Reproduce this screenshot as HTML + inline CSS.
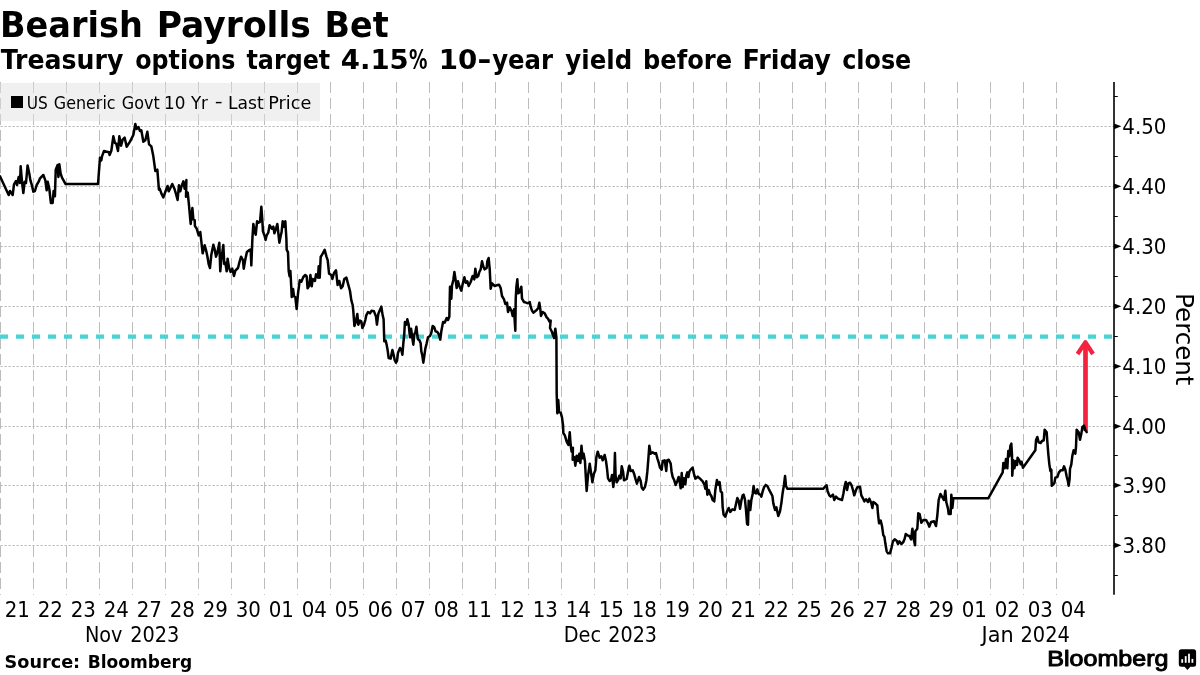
<!DOCTYPE html>
<html lang="en"><head><meta charset="utf-8"><title>Bearish Payrolls Bet</title>
<style>html,body{margin:0;padding:0;background:#fff;width:1200px;height:675px;overflow:hidden}</style></head>
<body>
<svg width="1200" height="675" viewBox="0 0 1200 675" style="display:block">
<rect width="1200" height="675" fill="#fff"/>
<g stroke="#bcbcbc" stroke-width="1" stroke-dasharray="11 5" fill="none">
<line x1="0.5" y1="82" x2="0.5" y2="594.8"/>
<line x1="33.5" y1="82" x2="33.5" y2="594.8"/>
<line x1="66.5" y1="82" x2="66.5" y2="594.8"/>
<line x1="99.5" y1="82" x2="99.5" y2="594.8"/>
<line x1="132.5" y1="82" x2="132.5" y2="594.8"/>
<line x1="165.5" y1="82" x2="165.5" y2="594.8"/>
<line x1="198.5" y1="82" x2="198.5" y2="594.8"/>
<line x1="231.5" y1="82" x2="231.5" y2="594.8"/>
<line x1="264.5" y1="82" x2="264.5" y2="594.8"/>
<line x1="297.5" y1="82" x2="297.5" y2="594.8"/>
<line x1="330.5" y1="82" x2="330.5" y2="594.8"/>
<line x1="363.5" y1="82" x2="363.5" y2="594.8"/>
<line x1="396.5" y1="82" x2="396.5" y2="594.8"/>
<line x1="429.5" y1="82" x2="429.5" y2="594.8"/>
<line x1="462.5" y1="82" x2="462.5" y2="594.8"/>
<line x1="495.5" y1="82" x2="495.5" y2="594.8"/>
<line x1="528.5" y1="82" x2="528.5" y2="594.8"/>
<line x1="561.5" y1="82" x2="561.5" y2="594.8"/>
<line x1="594.5" y1="82" x2="594.5" y2="594.8"/>
<line x1="627.5" y1="82" x2="627.5" y2="594.8"/>
<line x1="660.5" y1="82" x2="660.5" y2="594.8"/>
<line x1="693.5" y1="82" x2="693.5" y2="594.8"/>
<line x1="726.5" y1="82" x2="726.5" y2="594.8"/>
<line x1="759.5" y1="82" x2="759.5" y2="594.8"/>
<line x1="792.5" y1="82" x2="792.5" y2="594.8"/>
<line x1="825.5" y1="82" x2="825.5" y2="594.8"/>
<line x1="858.5" y1="82" x2="858.5" y2="594.8"/>
<line x1="891.5" y1="82" x2="891.5" y2="594.8"/>
<line x1="924.5" y1="82" x2="924.5" y2="594.8"/>
<line x1="957.5" y1="82" x2="957.5" y2="594.8"/>
<line x1="990.5" y1="82" x2="990.5" y2="594.8"/>
<line x1="1023.5" y1="82" x2="1023.5" y2="594.8"/>
<line x1="1056.5" y1="82" x2="1056.5" y2="594.8"/>
</g>
<g stroke="#b8b8b8" stroke-width="1" stroke-dasharray="2.2 1.8" stroke-dashoffset="-0.5" fill="none">
<line x1="0" y1="126.5" x2="1114" y2="126.5"/>
<line x1="0" y1="186.5" x2="1114" y2="186.5"/>
<line x1="0" y1="246.5" x2="1114" y2="246.5"/>
<line x1="0" y1="306.5" x2="1114" y2="306.5"/>
<line x1="0" y1="366.5" x2="1114" y2="366.5"/>
<line x1="0" y1="426.5" x2="1114" y2="426.5"/>
<line x1="0" y1="485.5" x2="1114" y2="485.5"/>
<line x1="0" y1="545.5" x2="1114" y2="545.5"/>
</g>
<rect x="0" y="83" width="320" height="38" fill="#e1e1e1" fill-opacity="0.5"/>
<line x1="0" y1="336.6" x2="1113" y2="336.6" stroke="#48d4d4" stroke-width="4.4" stroke-dasharray="8 8"/>
<g stroke="#f4223f" fill="none"><line x1="1085.5" y1="431" x2="1085.5" y2="343" stroke-width="4.7"/><path d="M1077.5 354 L1085.5 342.3 L1093 354" stroke-width="4.3" stroke-linecap="butt" stroke-linejoin="round"/></g>
<path d="M0 176.33 L8.67 195 L10 191 L12.67 195 L14 184.33 L16 181 L17.07 185 L18.67 177 L20 183 L20.67 166.33 L22 181.67 L23.33 193 L24.67 181.67 L26 183 L27.6 165.4 L29.33 173.67 L30.4 180.33 L32 185.67 L33.33 191.67 L34.93 191 L36.67 185 L38.67 181.67 L40 178.33 L43.33 175 L45.33 180.33 L46.67 190.33 L47.73 181.67 L49.33 189 L50.93 203 L52.67 203 L53.6 191 L54.93 196.33 L55.73 169.67 L57.6 165 L58.4 177 L59.33 164.33 L60.67 173.67 L62 177.67 L65.6 184.07 L98 184.07 L100 157.67 L101.33 160.33 L102 156.33 L104 151 L106.67 151.67 L109.07 152.33 L109.6 155 L111.33 150.73 L113.33 136.33 L114.93 143 L116.27 143.67 L118 151 L119.33 136.33 L121.07 145.67 L122.67 139.67 L124.67 137.67 L126.67 146.73 L130 141.67 L133.33 135 L135.33 124.07 L136.67 129 L138.4 127 L140 131 L141.33 130.33 L143.33 141.67 L145.33 140.33 L147.33 131.67 L149.07 144.33 L151.33 146.33 L153.33 156.33 L155.33 171 L157.33 169.67 L158.93 189.67 L159.73 188.67 L161.33 193.33 L163.33 197.33 L166 190 L167.6 186 L168.67 191.33 L170.4 188 L172.27 184 L174.4 188.67 L176 194 L177.6 200 L178.93 185.33 L180.27 191.33 L181.6 186 L183.33 181.33 L184.67 188.67 L186.4 180 L186 196.67 L187.73 192.67 L189.07 206 L190.67 224 L192.4 208 L193.33 219.33 L194.67 220 L194.93 226 L196.67 228.67 L198.67 235.33 L200.27 232 L201.33 241.33 L202.67 253.33 L204.67 245.33 L206 250 L207.33 256 L208.67 264 L210 268 L211.33 254.67 L213.33 244.67 L214.67 249.33 L216 256.67 L217.33 252.67 L219.33 242.67 L220.27 271.33 L221.6 257.33 L223.33 245.07 L224.27 264 L225.33 262.67 L226.67 271.33 L227.6 258.67 L229.07 268 L230.67 272 L232.27 268.67 L234 276 L235.33 270.67 L238 268 L239.33 262.67 L241.07 256.67 L242.93 260 L243.73 268.67 L245.33 259.33 L246.93 252 L249.33 250 L250.67 249.33 L251.33 265.33 L252.4 238.67 L253.33 224 L254.67 230.67 L255.73 234.67 L257.07 221.33 L258.67 222.67 L260 222 L261.33 206.67 L262.4 221.33 L262.93 231.33 L264.67 236 L265.6 240 L266.67 235.33 L268.27 232.67 L269.6 225.33 L272 228.67 L273.33 226.67 L274.4 233.33 L276 228.67 L277.33 224 L278.67 236 L279.33 242.67 L280.67 236 L281.6 232 L282.67 221.33 L284 226.67 L285.33 221.33 L286.4 239 L286.67 249.67 L288 252.33 L288.67 271 L289.6 276.33 L290.4 271 L291.33 288.33 L291.73 297 L293.07 289 L294 296.33 L295.33 297 L296.67 309 L298 293.67 L299.73 280.33 L301.33 281.67 L303.33 277 L305.33 275 L306.67 276.33 L307.6 288.33 L309.33 285.67 L310.4 275 L311.73 286.33 L312.67 279 L314.93 281 L316 274.33 L318 277.67 L318.67 266.33 L319.73 277.67 L320.67 257 L322.67 253.67 L324.67 249.93 L326.4 256.33 L327.73 260.33 L329.07 273.67 L331.33 275 L332.4 279 L334 273 L336 270.33 L337.6 285 L339.33 281 L341.07 288.33 L342.67 286.33 L344.27 279 L346.4 277.67 L348 283.67 L350 291 L351.33 300.33 L352.67 305 L353.33 311.33 L354.4 326 L355.73 322 L357.33 314 L358.27 324.67 L360 320.67 L361.33 321.33 L362.4 328 L364 324.67 L365.33 320 L366.27 315.33 L368 312 L370 313.33 L371.6 310.67 L374 311.33 L376 316.67 L376.93 324.67 L378.27 314 L379.6 310.67 L381.33 306.67 L382.67 315.33 L383.6 319.33 L384.27 341.33 L385.73 340.67 L386.67 344.67 L387.6 350 L388.67 358 L390.67 358.67 L391.33 355.33 L392.4 350 L393.73 355.33 L394.67 360 L396 362.67 L397.07 360.67 L398 352.67 L400 348 L401.33 350 L402.4 354.67 L403.33 343.33 L404.27 334 L404.93 322 L406.27 324.67 L407.33 319.33 L408.67 324.67 L410 337.33 L411.07 328.67 L412.4 338.67 L413.33 344.67 L414.4 334 L415.33 332.67 L416.4 326.67 L417.33 335.33 L418 339.33 L419.33 340 L420.67 343.33 L421.33 351.33 L422.27 355.33 L423.33 362.67 L424.4 355.33 L425.33 348.67 L426.67 343.33 L428 337.33 L430 336 L431.33 332.67 L432.67 326 L434.27 327.33 L435.6 331.33 L437.33 332 L438.67 334 L440.27 339.6 L441.33 331.33 L443.07 322 L444.67 322.67 L446.67 318 L448 320 L449.33 316.67 L450 286.67 L451.33 298.67 L452 285.33 L453.33 280 L454.4 272 L455.6 280 L456.67 288 L458 281.33 L459.33 286 L461.33 290.67 L462.67 284 L464.4 277.33 L465.73 282.67 L467.33 281.33 L468.67 286 L470.67 282 L472.67 276 L474.27 279.33 L475.33 268.67 L476.67 277.33 L478.27 276 L479.33 272 L480.67 269.33 L482 261.33 L483.33 266.67 L484.67 269.33 L486.67 268 L487.33 261.33 L488.67 258 L489.73 269.33 L490.67 288.67 L492 283.33 L494.67 286 L496.67 285.33 L499.07 284.67 L500.67 288 L502 296 L504 299.33 L505.33 304 L507.07 302.67 L508 312 L509.73 307.33 L511.6 311.33 L512.67 316 L514 309.33 L515.33 330.67 L515.73 298.67 L516.4 286.67 L517.33 279.33 L518.27 293.33 L519.6 292 L521.33 286.67 L522 298.67 L524 302 L526 302.67 L528 303.33 L529.73 302 L530.67 306.67 L532 310.67 L533.33 312.67 L536.67 310 L538.27 308 L539.33 302.67 L540.4 310 L540.93 316 L542.67 312 L544.67 313.33 L546.67 317.33 L548 318.67 L549.33 321.33 L550.67 320.67 L550 328 L552 332 L553.33 336 L554 338 L555.33 328.67 L556.4 337.33 L556.67 390 L556.67 393.33 L557.33 413.33 L558.27 400 L559.07 412 L560.67 412.67 L562 417.33 L563.07 425.33 L563.33 433 L564.93 435.67 L566.67 441.67 L568.4 445 L569.73 432.33 L570.67 445 L571.6 451.67 L572.93 447.67 L572.67 459.67 L574.27 457 L575.33 465.67 L576.67 455.67 L578 461 L579.33 453.67 L580.4 463 L581.47 445.67 L582.67 458.33 L583.6 453.67 L584.93 461 L585.73 475.67 L586.67 491 L588 475.67 L589.73 463.67 L591.07 473 L592.4 482.33 L593.73 474.33 L595.33 470.33 L596.4 457 L597.73 451.67 L599.6 457.67 L601.33 456.33 L602.67 460.33 L604.67 455 L606 461 L607.07 469 L608 478.33 L609.73 481 L611.07 479.67 L612 475 L613.33 487 L614.27 477 L614.93 453 L615.6 475.67 L616.67 482.33 L618.27 479.67 L619.33 475.67 L620.67 478.33 L621.73 466.33 L623.07 471.67 L624 480.33 L626.67 479 L628 471.67 L629.33 465.67 L630.67 471 L632.67 470.33 L634.27 474.33 L635.33 478.33 L636.93 483.67 L639.07 477 L640.67 481 L641.73 487.67 L643.07 489.67 L644.93 487 L646.27 481 L647.33 471.67 L648.4 458.33 L649.33 445.67 L650.67 453.67 L652.67 452.33 L654.67 453.67 L656 453 L657.33 458.33 L658.67 462.33 L660 467.67 L661.73 469.67 L662.67 461 L664.67 460.33 L666.27 471 L667.07 460.33 L668.67 459.67 L670.67 463.67 L671.6 471.67 L672.67 477 L674.27 480.33 L675.6 485 L677.33 481 L678.67 477 L680 483.67 L680.67 488.33 L681.73 473 L682.67 487 L684 478.33 L685.33 484.33 L686.27 475.67 L687.33 472.33 L688.4 477 L689.33 471.67 L690.67 469.67 L692.67 467.67 L694 474 L695.33 478.67 L697.73 476.67 L700 478.67 L702.67 481.33 L704.4 484.67 L705.33 488.67 L706.27 481.33 L707.33 494.67 L708.67 490 L710 494 L711.33 496 L712.67 500 L714.27 501.33 L715.33 490 L716.93 480 L718.27 484.67 L719.6 482 L720.67 491.33 L722 492.67 L722.67 507.33 L723.6 514.67 L725.33 516.67 L727.07 511.33 L728.67 508 L730.27 512 L732.4 509.33 L734.67 510 L736 504 L737.33 498 L738.67 500.67 L740 508.67 L741.33 500.67 L742.67 495.33 L743.6 494.67 L744.93 499.33 L746 510 L747.07 524 L748 524.67 L748.67 500.67 L750.27 510 L751.33 500 L752.67 494 L753.6 486 L754.67 492.67 L756 493.33 L757.33 489.33 L758.67 494 L760.4 494.67 L761.33 496.67 L762.67 491.33 L764 487.33 L765.73 484.93 L767.33 486 L768.93 489.33 L770.67 492.67 L772.4 496 L773.33 503.33 L775.07 510 L776.4 507.33 L778.27 516 L780 511.33 L781.33 503.33 L782.67 492.67 L784 484.67 L785.07 476 L786 486 L787.33 488.67 L823.33 488.67 L824.93 486.67 L826.67 485.33 L827.6 491.33 L829.33 495.33 L830.67 496.67 L832.93 494.67 L834.27 500 L836 496.67 L838 498.67 L842 500 L843.33 494 L844.67 486 L845.73 482 L847.07 490 L848.4 483.33 L850 482.67 L851.6 485.33 L852.93 490 L854.27 495.33 L856 490 L857.33 487.33 L860 486.67 L861.33 495.33 L863.07 498.67 L864.4 501.33 L866 499.33 L868 502 L869.33 498.67 L871.33 503.33 L872.4 508 L873.33 502 L875.33 503.33 L877.33 505.33 L878 514 L879.07 523.33 L880.67 520.67 L882 526 L883.33 535.33 L884.4 536.67 L885.33 543.33 L886.67 551.33 L888 553.33 L890 553.33 L891.6 547.33 L892.93 541.33 L894.67 539.33 L896.67 540.67 L898 544 L899.33 541.33 L901.33 544 L903.33 542 L904.67 538.67 L905.73 534 L907.33 535.33 L909.33 536 L911.07 539.33 L912.4 528.67 L913.73 539.33 L915.07 545.33 L915.33 531.33 L917.33 528.67 L918.27 513.33 L919.6 514 L921.33 522.67 L923.33 520 L926 520 L928 523.33 L929.33 526.67 L931.07 522 L934 521.33 L936 526 L937.33 515.33 L938.67 500 L940.4 494 L942 496.67 L944 500 L945.33 490.67 L946.27 502 L948 508.67 L948.67 514 L950.67 514 L951.33 494.67 L952.4 508 L953.33 498.27 L988.27 498.33 L1002.67 472.33 L1003.33 463 L1004.67 468.33 L1006 459 L1007.33 468.33 L1008.27 451 L1009.33 456.33 L1010.4 445.67 L1011.33 443.67 L1012 455 L1012.27 475.67 L1013.33 460.33 L1014.4 468.33 L1015.73 461 L1017.07 465 L1017.6 457.67 L1019.33 460.33 L1020.67 464.33 L1021.6 461.67 L1022.93 467.67 L1035.33 450.33 L1036 440.33 L1037.33 437 L1038.67 442.33 L1040.67 443 L1042 441 L1043.73 440.33 L1044.67 429.67 L1046.67 432.33 L1047.33 441.67 L1048.27 453.67 L1049.33 464.33 L1050.4 471 L1051.33 469.67 L1051.73 485.67 L1053.33 484.33 L1054.4 483 L1055.33 477.67 L1057.33 477 L1058.93 472.33 L1060.67 470.33 L1062.67 470.33 L1064 466.33 L1065.33 469.67 L1066.67 476.33 L1067.73 480.33 L1068.67 485.67 L1069.6 479 L1070 469 L1071.33 464.33 L1072.27 456.33 L1073.6 450.33 L1075.33 453.67 L1076 447 L1076.67 429.67 L1078.67 432.33 L1080 439.67 L1081.33 433.67 L1082.4 427 L1084 425.67 L1085.33 430.33 L1086.67 432.07" fill="none" stroke="#000" stroke-width="2.5" stroke-linejoin="round" stroke-linecap="round"/>
<g stroke="#000" fill="none"><line x1="1114" y1="82" x2="1114" y2="594.8" stroke-width="1.6"/>
<line x1="1114" y1="96.5" x2="1117.8" y2="96.5" stroke-width="1"/>
<line x1="1114" y1="156.5" x2="1117.8" y2="156.5" stroke-width="1"/>
<line x1="1114" y1="216.5" x2="1117.8" y2="216.5" stroke-width="1"/>
<line x1="1114" y1="276.5" x2="1117.8" y2="276.5" stroke-width="1"/>
<line x1="1114" y1="336.5" x2="1117.8" y2="336.5" stroke-width="1"/>
<line x1="1114" y1="396.5" x2="1117.8" y2="396.5" stroke-width="1"/>
<line x1="1114" y1="455.5" x2="1117.8" y2="455.5" stroke-width="1"/>
<line x1="1114" y1="515.5" x2="1117.8" y2="515.5" stroke-width="1"/>
<line x1="1114" y1="575.5" x2="1117.8" y2="575.5" stroke-width="1"/>
</g>
<g fill="#000">
<path d="M1114 123.40 L1121.4 126.30 L1114 129.20 Z"/>
<path d="M1114 183.40 L1121.4 186.30 L1114 189.20 Z"/>
<path d="M1114 243.40 L1121.4 246.30 L1114 249.20 Z"/>
<path d="M1114 303.40 L1121.4 306.30 L1114 309.20 Z"/>
<path d="M1114 363.40 L1121.4 366.30 L1114 369.20 Z"/>
<path d="M1114 423.40 L1121.4 426.30 L1114 429.20 Z"/>
<path d="M1114 482.40 L1121.4 485.30 L1114 488.20 Z"/>
<path d="M1114 542.40 L1121.4 545.30 L1114 548.20 Z"/>
</g>
<g fill="#000">
<text font-family="'DejaVu Sans Condensed','DejaVu Sans','Liberation Sans',sans-serif" font-size="22" font-stretch="condensed"><tspan x="4.71" y="616.80" textLength="25.19" lengthAdjust="spacingAndGlyphs">21</tspan></text>
<text font-family="'DejaVu Sans Condensed','DejaVu Sans','Liberation Sans',sans-serif" font-size="22" font-stretch="condensed"><tspan x="37.71" y="616.80" textLength="25.19" lengthAdjust="spacingAndGlyphs">22</tspan></text>
<text font-family="'DejaVu Sans Condensed','DejaVu Sans','Liberation Sans',sans-serif" font-size="22" font-stretch="condensed"><tspan x="70.71" y="616.80" textLength="25.19" lengthAdjust="spacingAndGlyphs">23</tspan></text>
<text font-family="'DejaVu Sans Condensed','DejaVu Sans','Liberation Sans',sans-serif" font-size="22" font-stretch="condensed"><tspan x="103.71" y="616.80" textLength="25.19" lengthAdjust="spacingAndGlyphs">24</tspan></text>
<text font-family="'DejaVu Sans Condensed','DejaVu Sans','Liberation Sans',sans-serif" font-size="22" font-stretch="condensed"><tspan x="136.71" y="616.80" textLength="25.19" lengthAdjust="spacingAndGlyphs">27</tspan></text>
<text font-family="'DejaVu Sans Condensed','DejaVu Sans','Liberation Sans',sans-serif" font-size="22" font-stretch="condensed"><tspan x="169.71" y="616.80" textLength="25.19" lengthAdjust="spacingAndGlyphs">28</tspan></text>
<text font-family="'DejaVu Sans Condensed','DejaVu Sans','Liberation Sans',sans-serif" font-size="22" font-stretch="condensed"><tspan x="202.71" y="616.80" textLength="25.19" lengthAdjust="spacingAndGlyphs">29</tspan></text>
<text font-family="'DejaVu Sans Condensed','DejaVu Sans','Liberation Sans',sans-serif" font-size="22" font-stretch="condensed"><tspan x="235.71" y="616.80" textLength="25.19" lengthAdjust="spacingAndGlyphs">30</tspan></text>
<text font-family="'DejaVu Sans Condensed','DejaVu Sans','Liberation Sans',sans-serif" font-size="22" font-stretch="condensed"><tspan x="268.71" y="616.80" textLength="25.19" lengthAdjust="spacingAndGlyphs">01</tspan></text>
<text font-family="'DejaVu Sans Condensed','DejaVu Sans','Liberation Sans',sans-serif" font-size="22" font-stretch="condensed"><tspan x="301.71" y="616.80" textLength="25.19" lengthAdjust="spacingAndGlyphs">04</tspan></text>
<text font-family="'DejaVu Sans Condensed','DejaVu Sans','Liberation Sans',sans-serif" font-size="22" font-stretch="condensed"><tspan x="334.71" y="616.80" textLength="25.19" lengthAdjust="spacingAndGlyphs">05</tspan></text>
<text font-family="'DejaVu Sans Condensed','DejaVu Sans','Liberation Sans',sans-serif" font-size="22" font-stretch="condensed"><tspan x="367.71" y="616.80" textLength="25.19" lengthAdjust="spacingAndGlyphs">06</tspan></text>
<text font-family="'DejaVu Sans Condensed','DejaVu Sans','Liberation Sans',sans-serif" font-size="22" font-stretch="condensed"><tspan x="400.71" y="616.80" textLength="25.19" lengthAdjust="spacingAndGlyphs">07</tspan></text>
<text font-family="'DejaVu Sans Condensed','DejaVu Sans','Liberation Sans',sans-serif" font-size="22" font-stretch="condensed"><tspan x="433.71" y="616.80" textLength="25.19" lengthAdjust="spacingAndGlyphs">08</tspan></text>
<text font-family="'DejaVu Sans Condensed','DejaVu Sans','Liberation Sans',sans-serif" font-size="22" font-stretch="condensed"><tspan x="466.71" y="616.80" textLength="25.19" lengthAdjust="spacingAndGlyphs">11</tspan></text>
<text font-family="'DejaVu Sans Condensed','DejaVu Sans','Liberation Sans',sans-serif" font-size="22" font-stretch="condensed"><tspan x="499.71" y="616.80" textLength="25.19" lengthAdjust="spacingAndGlyphs">12</tspan></text>
<text font-family="'DejaVu Sans Condensed','DejaVu Sans','Liberation Sans',sans-serif" font-size="22" font-stretch="condensed"><tspan x="532.71" y="616.80" textLength="25.19" lengthAdjust="spacingAndGlyphs">13</tspan></text>
<text font-family="'DejaVu Sans Condensed','DejaVu Sans','Liberation Sans',sans-serif" font-size="22" font-stretch="condensed"><tspan x="565.71" y="616.80" textLength="25.19" lengthAdjust="spacingAndGlyphs">14</tspan></text>
<text font-family="'DejaVu Sans Condensed','DejaVu Sans','Liberation Sans',sans-serif" font-size="22" font-stretch="condensed"><tspan x="598.71" y="616.80" textLength="25.19" lengthAdjust="spacingAndGlyphs">15</tspan></text>
<text font-family="'DejaVu Sans Condensed','DejaVu Sans','Liberation Sans',sans-serif" font-size="22" font-stretch="condensed"><tspan x="631.71" y="616.80" textLength="25.19" lengthAdjust="spacingAndGlyphs">18</tspan></text>
<text font-family="'DejaVu Sans Condensed','DejaVu Sans','Liberation Sans',sans-serif" font-size="22" font-stretch="condensed"><tspan x="664.71" y="616.80" textLength="25.19" lengthAdjust="spacingAndGlyphs">19</tspan></text>
<text font-family="'DejaVu Sans Condensed','DejaVu Sans','Liberation Sans',sans-serif" font-size="22" font-stretch="condensed"><tspan x="697.71" y="616.80" textLength="25.19" lengthAdjust="spacingAndGlyphs">20</tspan></text>
<text font-family="'DejaVu Sans Condensed','DejaVu Sans','Liberation Sans',sans-serif" font-size="22" font-stretch="condensed"><tspan x="730.71" y="616.80" textLength="25.19" lengthAdjust="spacingAndGlyphs">21</tspan></text>
<text font-family="'DejaVu Sans Condensed','DejaVu Sans','Liberation Sans',sans-serif" font-size="22" font-stretch="condensed"><tspan x="763.71" y="616.80" textLength="25.19" lengthAdjust="spacingAndGlyphs">22</tspan></text>
<text font-family="'DejaVu Sans Condensed','DejaVu Sans','Liberation Sans',sans-serif" font-size="22" font-stretch="condensed"><tspan x="796.71" y="616.80" textLength="25.19" lengthAdjust="spacingAndGlyphs">25</tspan></text>
<text font-family="'DejaVu Sans Condensed','DejaVu Sans','Liberation Sans',sans-serif" font-size="22" font-stretch="condensed"><tspan x="829.71" y="616.80" textLength="25.19" lengthAdjust="spacingAndGlyphs">26</tspan></text>
<text font-family="'DejaVu Sans Condensed','DejaVu Sans','Liberation Sans',sans-serif" font-size="22" font-stretch="condensed"><tspan x="862.71" y="616.80" textLength="25.19" lengthAdjust="spacingAndGlyphs">27</tspan></text>
<text font-family="'DejaVu Sans Condensed','DejaVu Sans','Liberation Sans',sans-serif" font-size="22" font-stretch="condensed"><tspan x="895.71" y="616.80" textLength="25.19" lengthAdjust="spacingAndGlyphs">28</tspan></text>
<text font-family="'DejaVu Sans Condensed','DejaVu Sans','Liberation Sans',sans-serif" font-size="22" font-stretch="condensed"><tspan x="928.71" y="616.80" textLength="25.19" lengthAdjust="spacingAndGlyphs">29</tspan></text>
<text font-family="'DejaVu Sans Condensed','DejaVu Sans','Liberation Sans',sans-serif" font-size="22" font-stretch="condensed"><tspan x="961.71" y="616.80" textLength="25.19" lengthAdjust="spacingAndGlyphs">01</tspan></text>
<text font-family="'DejaVu Sans Condensed','DejaVu Sans','Liberation Sans',sans-serif" font-size="22" font-stretch="condensed"><tspan x="994.71" y="616.80" textLength="25.19" lengthAdjust="spacingAndGlyphs">02</tspan></text>
<text font-family="'DejaVu Sans Condensed','DejaVu Sans','Liberation Sans',sans-serif" font-size="22" font-stretch="condensed"><tspan x="1027.71" y="616.80" textLength="25.19" lengthAdjust="spacingAndGlyphs">03</tspan></text>
<text font-family="'DejaVu Sans Condensed','DejaVu Sans','Liberation Sans',sans-serif" font-size="22" font-stretch="condensed"><tspan x="1060.71" y="616.80" textLength="25.19" lengthAdjust="spacingAndGlyphs">04</tspan></text>
<text font-family="'DejaVu Sans Condensed','DejaVu Sans','Liberation Sans',sans-serif" font-size="22" font-stretch="condensed"><tspan x="1122.30" y="134.30" textLength="44.12" lengthAdjust="spacingAndGlyphs">4.50</tspan></text>
<text font-family="'DejaVu Sans Condensed','DejaVu Sans','Liberation Sans',sans-serif" font-size="22" font-stretch="condensed"><tspan x="1122.30" y="194.30" textLength="44.12" lengthAdjust="spacingAndGlyphs">4.40</tspan></text>
<text font-family="'DejaVu Sans Condensed','DejaVu Sans','Liberation Sans',sans-serif" font-size="22" font-stretch="condensed"><tspan x="1122.30" y="254.30" textLength="44.12" lengthAdjust="spacingAndGlyphs">4.30</tspan></text>
<text font-family="'DejaVu Sans Condensed','DejaVu Sans','Liberation Sans',sans-serif" font-size="22" font-stretch="condensed"><tspan x="1122.30" y="314.30" textLength="44.12" lengthAdjust="spacingAndGlyphs">4.20</tspan></text>
<text font-family="'DejaVu Sans Condensed','DejaVu Sans','Liberation Sans',sans-serif" font-size="22" font-stretch="condensed"><tspan x="1122.30" y="374.30" textLength="44.12" lengthAdjust="spacingAndGlyphs">4.10</tspan></text>
<text font-family="'DejaVu Sans Condensed','DejaVu Sans','Liberation Sans',sans-serif" font-size="22" font-stretch="condensed"><tspan x="1122.30" y="434.30" textLength="44.12" lengthAdjust="spacingAndGlyphs">4.00</tspan></text>
<text font-family="'DejaVu Sans Condensed','DejaVu Sans','Liberation Sans',sans-serif" font-size="22" font-stretch="condensed"><tspan x="1122.50" y="493.30" textLength="44.01" lengthAdjust="spacingAndGlyphs">3.90</tspan></text>
<text font-family="'DejaVu Sans Condensed','DejaVu Sans','Liberation Sans',sans-serif" font-size="22" font-stretch="condensed"><tspan x="1122.50" y="553.30" textLength="44.01" lengthAdjust="spacingAndGlyphs">3.80</tspan></text>
<text font-family="'DejaVu Sans','Liberation Sans',sans-serif" font-size="20.7"><tspan x="84.89" y="641.60" textLength="37.59" lengthAdjust="spacingAndGlyphs">Nov</tspan> <tspan x="130.20" y="641.60" textLength="49.15" lengthAdjust="spacingAndGlyphs">2023</tspan></text>
<text font-family="'DejaVu Sans','Liberation Sans',sans-serif" font-size="20.7"><tspan x="563.73" y="641.60" textLength="37.38" lengthAdjust="spacingAndGlyphs">Dec</tspan> <tspan x="608.31" y="641.60" textLength="48.72" lengthAdjust="spacingAndGlyphs">2023</tspan></text>
<text font-family="'DejaVu Sans','Liberation Sans',sans-serif" font-size="20.7"><tspan x="981.61" y="641.60" textLength="32.10" lengthAdjust="spacingAndGlyphs">Jan</tspan> <tspan x="1020.49" y="641.60" textLength="49.39" lengthAdjust="spacingAndGlyphs">2024</tspan></text>
<text transform="translate(1175.6,293.09) rotate(90)" font-family="'DejaVu Sans','Liberation Sans',sans-serif" font-size="24.5" textLength="92.39" lengthAdjust="spacingAndGlyphs">Percent</text>
<rect x="11" y="96" width="12" height="12" fill="#000"/>
<text font-family="'DejaVu Sans','Liberation Sans',sans-serif" font-size="17.6"><tspan x="26.79" y="109.00" textLength="21.03" lengthAdjust="spacingAndGlyphs">US</tspan> <tspan x="53.79" y="109.00" textLength="61.80" lengthAdjust="spacingAndGlyphs">Generic</tspan> <tspan x="121.79" y="109.00" textLength="37.94" lengthAdjust="spacingAndGlyphs">Govt</tspan> <tspan x="164.09" y="109.00" textLength="21.40" lengthAdjust="spacingAndGlyphs">10</tspan> <tspan x="190.90" y="109.00" textLength="17.09" lengthAdjust="spacingAndGlyphs">Yr</tspan> <tspan x="214.77" y="107.20" textLength="7.90" lengthAdjust="spacingAndGlyphs">-</tspan> <tspan x="228.00" y="109.00" textLength="35.70" lengthAdjust="spacingAndGlyphs">Last</tspan> <tspan x="268.24" y="109.00" textLength="43.08" lengthAdjust="spacingAndGlyphs">Price</tspan></text>
<text font-family="'DejaVu Sans','Liberation Sans',sans-serif" font-weight="bold" font-size="35.2"><tspan x="0.00" y="36.90" textLength="142.76" lengthAdjust="spacingAndGlyphs">Bearish</tspan> <tspan x="156.71" y="36.90" textLength="154.15" lengthAdjust="spacingAndGlyphs">Payrolls</tspan> <tspan x="324.51" y="36.90" textLength="64.11" lengthAdjust="spacingAndGlyphs">Bet</tspan></text>
<text font-family="'DejaVu Sans','Liberation Sans',sans-serif" font-weight="bold" font-size="26"><tspan x="0.66" y="68.80" textLength="122.76" lengthAdjust="spacingAndGlyphs">Treasury</tspan> <tspan x="135.19" y="68.80" textLength="100.29" lengthAdjust="spacingAndGlyphs">options</tspan> <tspan x="246.47" y="68.80" textLength="83.77" lengthAdjust="spacingAndGlyphs">target</tspan> <tspan x="340.78" y="68.80" textLength="68.00" lengthAdjust="spacingAndGlyphs">4.15</tspan><tspan x="408.97" y="68.80" textLength="18.46" lengthAdjust="spacingAndGlyphs">%</tspan> <tspan x="438.70" y="68.80" textLength="38.56" lengthAdjust="spacingAndGlyphs">10</tspan><tspan x="477.31" y="68.80" textLength="14.31" lengthAdjust="spacingAndGlyphs">-</tspan><tspan x="492.23" y="68.80" textLength="60.86" lengthAdjust="spacingAndGlyphs">year</tspan> <tspan x="565.33" y="68.80" textLength="66.82" lengthAdjust="spacingAndGlyphs">yield</tspan> <tspan x="643.01" y="68.80" textLength="89.03" lengthAdjust="spacingAndGlyphs">before</tspan> <tspan x="742.45" y="68.80" textLength="88.43" lengthAdjust="spacingAndGlyphs">Friday</tspan> <tspan x="842.18" y="68.80" textLength="69.11" lengthAdjust="spacingAndGlyphs">close</tspan></text>
<text font-family="'DejaVu Sans','Liberation Sans',sans-serif" font-weight="bold" font-size="17.6"><tspan x="4.55" y="668.10" textLength="75.62" lengthAdjust="spacingAndGlyphs">Source:</tspan> <tspan x="87.75" y="668.10" textLength="104.51" lengthAdjust="spacingAndGlyphs">Bloomberg</tspan></text>
<text font-family="'Liberation Sans','DejaVu Sans',sans-serif" font-size="22.5" stroke="#000" stroke-width="1" stroke-linejoin="round"><tspan x="1047.25" y="666.00" textLength="121.29" lengthAdjust="spacingAndGlyphs">Bloomberg</tspan></text>
<path d="M1181.3 649.2 h12.3 a2.5 2.5 0 0 1 2.5 2.5 v12.5 a2.5 2.5 0 0 1 -2.5 2.5 h-3.3 l-2.85 3.2 l-2.85 -3.2 h-3.3 a2.5 2.5 0 0 1 -2.5 -2.5 v-12.5 a2.5 2.5 0 0 1 2.5 -2.5 z"/>
<g fill="#fff"><rect x="1181.3" y="659.2" width="1.8" height="3.6"/><rect x="1184.8" y="656.1" width="1.8" height="6.7"/><rect x="1188.1" y="653.7" width="1.8" height="9.1"/><rect x="1191.5" y="658.9" width="1.8" height="3.9"/></g>
</g>
</svg>
</body></html>
